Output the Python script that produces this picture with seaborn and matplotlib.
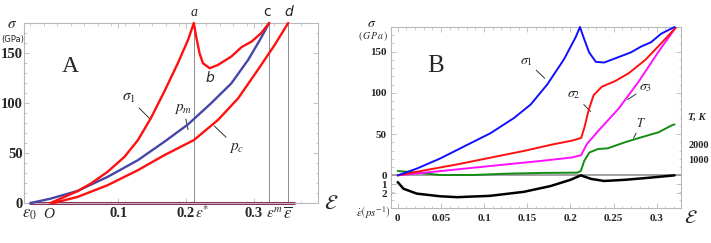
import numpy as np
import matplotlib
matplotlib.use("Agg")
import matplotlib.pyplot as plt
import seaborn as sns

# ---------------- data: panel A (strain, stress in GPa) ----------------
A_sigma1_eps = [0.0, 0.0397, 0.0595, 0.084, 0.109, 0.129, 0.148, 0.168, 0.188, 0.203,
                0.2116, 0.215, 0.22, 0.225, 0.235, 0.247, 0.267, 0.282, 0.297, 0.311, 0.3227]
A_sigma1_val = [0.0, 11.7, 19.4, 31.0, 46.0, 62.8, 84.6, 111.4, 139.8, 163.0,
                180.0, 166.6, 149.8, 139.8, 134.8, 138.0, 146.5, 155.9, 161.5, 169.9, 180.0]
A_pm_eps = [-0.0294, 0.0, 0.0397, 0.084, 0.129, 0.168, 0.203, 0.237, 0.267, 0.2916,
            0.309, 0.3227]
A_pm_val = [0.0, 4.3, 12.0, 26.0, 42.8, 61.2, 78.6, 99.7, 119.7, 143.0, 163.0, 180.0]
A_pc_eps = [0.004, 0.0397, 0.084, 0.129, 0.168, 0.2116, 0.247, 0.277, 0.306, 0.331, 0.3508]
A_pc_val = [0.0, 6.0, 17.7, 32.8, 47.8, 62.9, 82.9, 104.7, 133.1, 158.2, 180.0]
A_marks = {"eps_star": 0.2116, "eps_m": 0.3227, "eps_bar": 0.3508}
A_xticks = [0.1, 0.2, 0.3]
A_yticks = [0, 50, 100, 150]

# ---------------- data: panel B ----------------
B_eps_s1 = [0.0, 0.0221, 0.0492, 0.0763, 0.1073, 0.1345, 0.1539, 0.1732, 0.1926, 0.206,
            0.211, 0.2158, 0.2216, 0.2294, 0.239, 0.2545, 0.27, 0.2817, 0.2933, 0.305, 0.3205]
B_sigma1 = [0.0, 8.2, 20.5, 34.8, 51.1, 69.5, 85.9, 110.4, 141.0, 167.6,
            180.0, 165.6, 149.2, 137.7, 136.9, 143.0, 149.2, 156.2, 161.5, 171.8, 180.0]
B_eps_s2 = [0.0, 0.031, 0.0698, 0.1085, 0.1473, 0.1783, 0.2016, 0.2124, 0.2163, 0.221,
            0.2268, 0.2364, 0.252, 0.2674, 0.2868, 0.3062, 0.3217]
B_sigma2 = [0.0, 6.1, 13.5, 21.7, 29.9, 37.3, 42.1, 45.4, 58.5, 79.0,
            97.3, 107.6, 114.5, 123.9, 140.2, 161.5, 179.0]
B_eps_s3 = [0.0, 0.0504, 0.1085, 0.1666, 0.2016, 0.2124, 0.219, 0.2326, 0.2558, 0.279,
            0.3023, 0.3217]
B_sigma3 = [0.0, 5.3, 11.5, 17.6, 21.7, 24.5, 38.0, 54.4, 81.0, 113.8, 150.6, 179.0]
B_eps_T = [0.0, 0.022, 0.049, 0.088, 0.126, 0.166, 0.208, 0.212, 0.216, 0.222,
           0.232, 0.243, 0.263, 0.282, 0.302, 0.317, 0.3205]
B_T_K = [290, 180, 25, 25, 110, 160, 180, 290, 960, 1510,
         1740, 1780, 2180, 2510, 2840, 3290, 3360]
B_eps_rate = [0.0, 0.0066, 0.022, 0.049, 0.069, 0.107, 0.146, 0.177, 0.2, 0.212,
              0.224, 0.239, 0.263, 0.293, 0.3205]
B_rate = [0.76, 1.5, 2.05, 2.35, 2.45, 2.3, 1.85, 1.2, 0.5, 0.0,
          0.4, 0.63, 0.5, 0.25, 0.0]
B_xticks = [0, 0.05, 0.1, 0.15, 0.2, 0.25, 0.3]
B_xticklabels = ["0", "0.05", "0.1", "0.15", "0.2", "0.25", "0.3"]
B_yticks = [0, 50, 100, 150]
B_rate_ticks = [1, 2]
B_T_ticks = [1000, 2000]

T_SCALE = 18.4 / 1000.0   # GPa-axis units per K
RATE_SCALE = 10.8         # GPa-axis units per ps^-1

sns.set_style("white")
plt.rcParams["mathtext.fontset"] = "stix"
SERIF = "Liberation Serif"
FRAME = "#b8b8b8"

fig = plt.figure(figsize=(7.11, 2.43), dpi=100)
axA = fig.add_axes([24 / 711, 1 - 203 / 243, (318 - 24) / 711, (203 - 23) / 243])
axB = fig.add_axes([391 / 711, 1 - 208 / 243, (681 - 391) / 711, (208 - 27) / 243])


def frame(ax):
    for s in ax.spines.values():
        s.set_color(FRAME)
        s.set_linewidth(0.8)
    ax.tick_params(which="both", direction="in", color=FRAME, top=True, right=True,
                   bottom=True, left=True)
    ax.tick_params(which="major", length=3.5, width=0.6)
    ax.tick_params(which="minor", length=1.8, width=0.5)


def curve(ax, x, y, color, lw, z):
    sns.lineplot(x=x, y=y, ax=ax, color=color, lw=lw, estimator=None, sort=False,
                 clip_on=False, zorder=z)


# ---------------- panel A ----------------
axA.set_xlim(-0.039, 0.3948)
axA.set_ylim(0, 180)
frame(axA)
for v in A_marks.values():
    axA.axvline(v, color="#8c8c8c", lw=0.7, zorder=1)
axA.plot([-0.03, 0.359], [0, 0], color="#8a2a5a", lw=2.2, clip_on=False, zorder=2)
curve(axA, A_pc_eps, A_pc_val, "#ff1010", 1.7, 3)
curve(axA, A_pm_eps, A_pm_val, "#4646a8", 1.7, 4)
curve(axA, A_sigma1_eps, A_sigma1_val, "#ff1010", 1.7, 5)
axA.set_xticks(A_xticks)
axA.set_xticklabels(["0.1", "0.2", "0.3"])
axA.set_yticks(A_yticks)
axA.set_xticks(np.arange(-0.03, 0.39, 0.02), minor=True)
axA.set_yticks(np.arange(0, 180, 10), minor=True)
for lab in axA.get_xticklabels() + axA.get_yticklabels():
    lab.set_fontfamily(SERIF)
    lab.set_fontweight("bold")
    lab.set_fontsize(10.5)
axA.tick_params(axis="x", which="major", pad=3)
axA.tick_params(axis="y", which="major", pad=1)

tA = axA.get_xaxis_transform()
yb = -0.083
axA.text(-0.0304, yb, r"$\varepsilon_0$", transform=tA, ha="center", va="baseline", fontsize=12)
axA.text(-0.002, yb, "O", transform=tA, ha="center", va="baseline", fontsize=11,
         family=SERIF, style="italic")
axA.text(A_marks["eps_star"] + 0.001, yb, r"$\varepsilon^{*}$", transform=tA,
         ha="left", va="baseline", fontsize=11)
axA.text(A_marks["eps_m"] - 0.005, yb, r"$\varepsilon^{m}$", transform=tA,
         ha="left", va="baseline", fontsize=11)
axA.text(A_marks["eps_bar"], yb, r"$\overline{\varepsilon}$", transform=tA,
         ha="center", va="baseline", fontsize=12)
axA.text(0.415, 0.0, r"$\mathcal{E}$", transform=tA, ha="center", va="center",
         fontsize=15, clip_on=False)
axA.text(0.2116, 1.02, "a", transform=tA, ha="center", va="bottom", fontsize=10,
         family=SERIF, style="italic")
axA.text(0.319, 1.02, "c", transform=tA, ha="center", va="bottom", fontsize=10,
         family="DejaVu Sans")
axA.text(0.352, 1.02, "d", transform=tA, ha="center", va="bottom", fontsize=10,
         family="DejaVu Sans", style="italic")
axA.text(0.235, 124.8, "b", ha="center", va="center", fontsize=10,
         family="DejaVu Sans", style="italic")
axA.text(0.03, 136.4, "A", ha="center", va="center", fontsize=17, family=SERIF)

lead = dict(arrowstyle="-", color="#333333", lw=0.7, shrinkA=0, shrinkB=0)
axA.annotate(r"$\sigma_1$", xy=(0.148, 83.3), xytext=(0.126, 97.7), fontsize=11,
             ha="right", va="bottom", arrowprops=lead)
axA.annotate(r"$p_m$", xy=(0.203, 73.3), xytext=(0.183, 87.3), fontsize=11,
             ha="left", va="bottom", arrowprops=lead)
axA.annotate(r"$p_c$", xy=(0.242, 76.9), xytext=(0.264, 62.8), fontsize=11,
             ha="left", va="top", arrowprops=lead)

fig.text(12 / 711, 1 - 24 / 243, r"$\sigma$", ha="center", va="center", fontsize=11)
fig.text(13 / 711, 1 - 39 / 243, "(GPa)", ha="center", va="center", fontsize=6,
         family="DejaVu Sans")

# ---------------- panel B ----------------
axB.set_xlim(-0.0078, 0.328)
axB.set_ylim(-39.6, 180)
frame(axB)
axB.axhline(0, color="#9a9a9a", lw=1.3, zorder=1)
curve(axB, B_eps_rate, [-r * RATE_SCALE for r in B_rate], "black", 1.8, 2)
curve(axB, B_eps_T, [t * T_SCALE for t in B_T_K], "#148c14", 1.4, 3)
curve(axB, B_eps_s3, B_sigma3, "#ff10ff", 1.4, 4)
curve(axB, B_eps_s2, B_sigma2, "#ff1010", 1.4, 5)
curve(axB, B_eps_s1, B_sigma1, "#1010ff", 1.4, 6)

axB.set_xticks(B_xticks)
axB.set_xticklabels(B_xticklabels)
yt = B_yticks + [-r * RATE_SCALE for r in B_rate_ticks]
axB.set_yticks(yt)
axB.set_yticklabels([str(v) for v in B_yticks] + [str(r) for r in B_rate_ticks])
axB.set_xticks(np.arange(0, 0.33, 0.01), minor=True)
axB.set_yticks(np.arange(-30, 180, 10), minor=True)
for lab in axB.get_xticklabels() + axB.get_yticklabels():
    lab.set_fontfamily(SERIF)
    lab.set_fontweight("bold")
    lab.set_fontsize(8)
axB.tick_params(axis="x", which="major", pad=4)
axB.tick_params(axis="y", which="major", pad=3)

tB = axB.get_yaxis_transform()
for t in B_T_ticks:
    axB.text(1.025, t * T_SCALE, str(t), transform=tB, ha="left", va="center",
             fontsize=7.5, family=SERIF, fontweight="bold")
axB.text(1.025, 71, "T, K", transform=tB, ha="left", va="center", fontsize=7.5,
         family=SERIF, fontweight="bold", style="italic")
axB.text(0.332, -0.05, r"$\mathcal{E}$", transform=axB.get_xaxis_transform(),
         ha="left", va="center", fontsize=14, clip_on=False)
axB.text(0.0434, 132.9, "B", ha="center", va="center", fontsize=18, family=SERIF)

axB.annotate(r"$\sigma_1$", xy=(0.1702, 117.8), xytext=(0.1566, 130.0), fontsize=10,
             ha="right", va="bottom", arrowprops=lead)
axB.annotate(r"$\sigma_2$", xy=(0.2233, 77.5), xytext=(0.2116, 89.8), fontsize=10,
             ha="right", va="bottom", arrowprops=lead)
axB.annotate(r"$\sigma_3$", xy=(0.2663, 92.0), xytext=(0.2798, 98.2), fontsize=10,
             ha="left", va="bottom", arrowprops=lead)
axB.annotate(r"$\mathbf{\mathit{T}}$", xy=(0.273, 45.0),
             xytext=(0.276, 55.2), fontsize=9, ha="left", va="bottom", arrowprops=lead)

fig.text(372 / 711, 1 - 23 / 243, r"$\sigma$", ha="center", va="center", fontsize=10)
fig.text(373 / 711, 1 - 36 / 243, r"$(\,G\,P\,a\,)$", ha="center", va="center", fontsize=7)
fig.text(373 / 711, 1 - 212 / 243, r"$\dot{\varepsilon}\left(ps^{-1}\right)$",
         ha="center", va="center", fontsize=8)

fig.savefig("out.png", dpi=100)
